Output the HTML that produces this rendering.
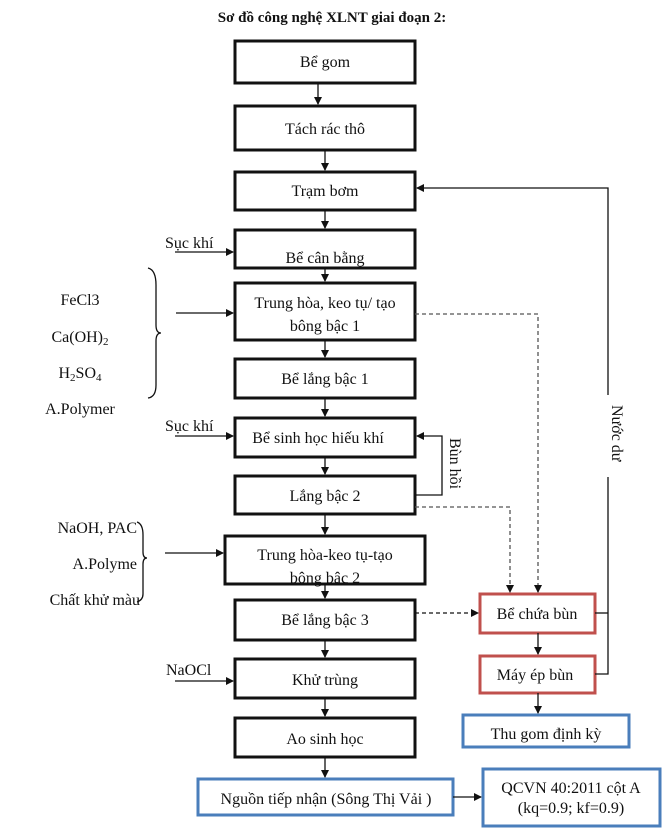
<!DOCTYPE html>
<html><head><meta charset="utf-8"><style>
body{margin:0;background:#fff}
svg text{font-family:"Liberation Serif",serif;font-size:16px;fill:#111}
</style></head><body>
<svg width="664" height="830" viewBox="0 0 664 830" xmlns="http://www.w3.org/2000/svg">
<defs><marker id="a" markerWidth="8" markerHeight="8" refX="7" refY="4" orient="auto" markerUnits="userSpaceOnUse"><path d="M0,0 L8,4 L0,8z" fill="#111"/></marker></defs>
<text x="332" y="22" text-anchor="middle" style="font-weight:bold;font-size:15px">Sơ đồ công nghệ XLNT giai đoạn 2:</text>
<g fill="#fff" stroke="#111" stroke-width="3">
<rect x="235" y="41" width="180" height="42"/>
<rect x="235" y="106" width="180" height="44"/>
<rect x="235" y="172" width="180" height="38"/>
<rect x="235" y="230" width="180" height="38"/>
<rect x="235" y="283" width="180" height="57"/>
<rect x="235" y="359" width="180" height="39"/>
<rect x="235" y="418" width="180" height="39"/>
<rect x="235" y="476" width="180" height="38"/>
<rect x="225" y="536" width="200" height="48"/>
<rect x="235" y="600" width="180" height="40"/>
<rect x="235" y="659" width="180" height="39"/>
<rect x="235" y="718" width="180" height="39"/>
</g>
<g fill="#fff" stroke="#c0504d" stroke-width="3">
<rect x="480" y="594" width="115" height="39"/>
<rect x="480" y="656" width="115" height="37"/>
</g>
<g fill="#fff" stroke="#4a7ebb" stroke-width="3">
<rect x="463" y="715" width="166" height="32"/>
<rect x="198" y="779" width="255" height="36"/>
<rect x="483" y="769" width="177" height="57"/>
</g>
<g text-anchor="middle">
<text x="325" y="67">Bể gom</text>
<text x="325" y="134">Tách rác thô</text>
<text x="325" y="196">Trạm bơm</text>
<text x="325" y="263">Bể cân bằng</text>
<text x="325" y="308">Trung hòa, keo tụ/ tạo</text>
<text x="325" y="331">bông bậc 1</text>
<text x="325" y="384">Bể lắng bậc 1</text>
<text x="318" y="443">Bể sinh học hiếu khí</text>
<text x="325" y="501">Lắng bậc 2</text>
<text x="325" y="560">Trung hòa-keo tụ-tạo</text>
<text x="325" y="583">bông bậc 2</text>
<text x="325" y="625">Bể lắng bậc 3</text>
<text x="325" y="685">Khử trùng</text>
<text x="325" y="744">Ao sinh học</text>
<text x="537" y="619">Bể chứa bùn</text>
<text x="535" y="680">Máy ép bùn</text>
<text x="546" y="739">Thu gom định kỳ</text>
<text x="326" y="804">Nguồn tiếp nhận (Sông Thị Vải )</text>
<text x="571" y="793">QCVN 40:2011 cột A</text>
<text x="571" y="813">(kq=0.9; kf=0.9)</text>
<text x="80" y="305">FeCl3</text>
<text x="80" y="342">Ca(OH)<tspan font-size="11" dy="3">2</tspan></text>
<text x="80" y="378">H<tspan font-size="11" dy="3">2</tspan><tspan dy="-3">SO</tspan><tspan font-size="11" dy="3">4</tspan></text>
<text x="80" y="414">A.Polymer</text>
</g>
<g text-anchor="end">
<text x="137" y="533">NaOH, PAC</text>
<text x="137" y="569">A.Polyme</text>
<text x="140" y="605">Chất khử màu</text>
</g>
<text x="165" y="248">Sục khí</text>
<text x="165" y="431">Sục khí</text>
<text x="166" y="675">NaOCl</text>
<text transform="translate(450,438) rotate(90)">Bùn hồi</text>
<text transform="translate(612,405) rotate(90)">Nước dư</text>
<g stroke="#111" stroke-width="1.3" fill="none">
<path d="M148,268 Q156,270 156,285 L156,325 Q156,333 161,333 Q156,333 156,341 L156,385 Q156,397 148,398"/>
<path d="M137,522 Q143,524 143,535 L143,552 Q143,558 147,558 Q143,558 143,564 L143,594 Q143,600 137,602"/>
<path d="M595,674 L608,674 L608,477"/>
<path d="M595,613 L608,613"/>
</g>
<g stroke="#111" stroke-width="1.3" fill="none" marker-end="url(#a)">
<line x1="318" y1="83" x2="318" y2="104"/>
<line x1="325" y1="150" x2="325" y2="170"/>
<line x1="325" y1="210" x2="325" y2="228"/>
<line x1="325" y1="268" x2="325" y2="281"/>
<line x1="325" y1="340" x2="325" y2="357"/>
<line x1="325" y1="398" x2="325" y2="416"/>
<line x1="325" y1="457" x2="325" y2="474"/>
<line x1="325" y1="514" x2="325" y2="534"/>
<line x1="325" y1="584" x2="325" y2="598"/>
<line x1="325" y1="640" x2="325" y2="657"/>
<line x1="325" y1="698" x2="325" y2="716"/>
<line x1="325" y1="757" x2="325" y2="777"/>
<line x1="175" y1="252" x2="233" y2="252"/>
<line x1="176" y1="313" x2="233" y2="313"/>
<line x1="175" y1="436" x2="233" y2="436"/>
<line x1="165" y1="553" x2="223" y2="553"/>
<line x1="175" y1="681" x2="233" y2="681"/>
<line x1="453" y1="797" x2="481" y2="797"/>
<line x1="538" y1="633" x2="538" y2="654"/>
<line x1="538" y1="693" x2="538" y2="713"/>
<path d="M415,495 L442,495 L442,436 L417,436"/>
<path d="M608,395 L608,188 L417,188"/>
<g stroke-dasharray="4,3" stroke="#555">
<path d="M415,314 L538,314 L538,592"/>
<path d="M415,507 L510,507 L510,592"/>
<path d="M415,613 L478,613" stroke="#111"/>
</g>
</g>
</svg>
</body></html>
